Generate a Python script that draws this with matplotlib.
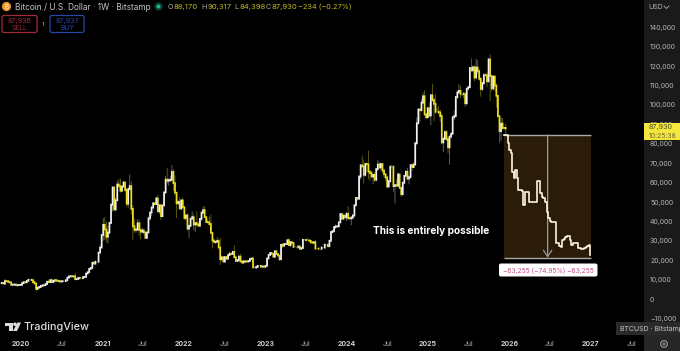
"""
BTC weekly chart with a projected drawdown box, TradingView style
Layout measured for a 680x351 PNG
"""

from datetime import datetime, timedelta

import matplotlib
matplotlib.use("Agg")

import matplotlib.pyplot as plt
from matplotlib.patches import Circle, FancyBboxPatch, Polygon, Rectangle

plt.rcParams["font.family"] = ["Inter", "DejaVu Sans"]

# === DATA (thousand USD, one value per week) ===
FIRST_WEEK = datetime(2019, 9, 30)

closes = [
    8.15, 8.3, 7.95, 9.25, 9.2, 8.8, 8.5, 7.3, 7.4, 7.5, 7.1, 7.2, 7.25, 7.35,
    8.2, 8.7, 8.6, 9.3, 9.9, 9.9, 9.7, 8.6, 8.0, 5.2, 5.9, 6.2, 6.8,
    7.0, 7.1, 7.7, 8.9, 8.7, 9.7, 8.7, 9.4, 9.7, 9.4, 9.3, 9.0, 9.1,
    9.2, 9.2, 9.7, 11.0, 11.6, 11.8, 11.6, 11.7, 10.2, 10.3, 10.9, 10.7, 10.7,
    11.3, 11.4, 13.1, 13.8, 15.5, 16.0, 18.7, 18.2, 19.2, 19.2, 23.9, 26.5, 33.0,
    38.2, 35.8, 32.1, 34.3, 39.2, 48.6, 57.5, 46.2, 50.9, 59.0, 58.1, 55.8, 58.0,
    60.0, 56.2, 49.1, 56.6, 58.2, 46.5, 37.5, 35.7, 35.8, 39.0, 35.6, 34.7, 35.3,
    34.3, 31.5, 34.3, 41.5, 44.6, 47.1, 49.3, 48.9, 51.8, 45.2, 48.3, 42.7, 48.2,
    54.9, 61.5, 60.9, 61.3, 61.5, 65.5, 59.7, 54.8, 49.3, 50.0, 46.7, 50.8, 47.3,
    41.8, 43.1, 36.3, 37.7, 41.4, 42.2, 38.4, 39.1, 38.4, 37.8, 41.3, 44.5, 45.8,
    42.2, 39.7, 39.5, 38.6, 34.1, 30.1, 29.4, 29.5, 29.9, 26.6, 20.5, 21.5, 19.3,
    21.6, 20.8, 22.6, 23.3, 23.2, 24.3, 21.5, 19.6, 20.0, 21.8, 19.4, 18.8, 19.3,
    19.4, 19.3, 19.6, 20.6, 20.9, 16.3, 16.3, 16.5, 17.1, 17.1, 16.7, 16.8, 16.6,
    17.1, 20.9, 22.7, 23.7, 23.3, 21.8, 24.6, 23.2, 22.4, 20.5, 27.9, 27.5, 28.4,
    28.3, 30.3, 27.8, 29.3, 28.9, 26.8, 26.8, 26.8, 27.1, 25.9, 26.3, 30.5, 30.5,
    30.3, 30.3, 30.0, 29.2, 29.0, 29.3, 26.0, 26.0, 25.9, 25.9, 26.5, 26.5, 28.0,
    28.0, 27.2, 30.0, 34.5, 35.0, 37.1, 37.4, 37.5, 39.5, 43.8, 41.4, 43.0, 42.1,
    43.9, 41.7, 41.6, 42.0, 43.0, 48.3, 52.1, 51.7, 63.1, 68.9, 68.4, 64.0, 69.6,
    69.4, 65.7, 64.9, 63.1, 64.0, 61.5, 67.0, 69.3, 67.8, 69.6, 66.2, 64.3, 62.7,
    58.0, 60.8, 68.2, 68.2, 58.2, 58.7, 58.4, 64.2, 57.3, 54.1, 59.9, 63.5, 65.6,
    62.1, 62.8, 69.0, 68.0, 69.3, 80.3, 90.6, 97.7, 97.3, 101.2, 104.5, 95.2, 93.7,
    98.3, 94.6, 105.0, 102.6, 100.6, 96.5, 96.5, 96.2, 94.3, 80.7, 82.6, 86.0, 82.4,
    78.2, 83.7, 85.2, 93.7, 94.3, 104.1, 106.5, 107.3, 105.7, 105.7, 105.6, 100.9, 108.4,
    109.2, 119.1, 117.9, 119.4, 114.2, 119.3, 117.4, 113.5, 108.3, 111.2, 115.4, 115.3, 112.2,
    123.5, 115.0, 108.6, 114.6, 110.0, 104.7, 94.2, 86.5, 90.4, 88.2, 88.17, 87.93,
]

upper_wicks = [
    .3, .2, .4, 1.0, .4, .5, .3, .3, .4, .3, .2, .2, .1, .1,
    .1, .2, .3, .2, .3, .4, .4, .4, .9, .1, .3, .5, .4,
    .2, .2, .1, .5, 1.2, .2, 1.1, .5, .4, .2, .1, .2, .1,
    .2, .3, .1, .2, .5, .3, .5, .1, 1.8, .2, .2, .1, .2,
    .1, .2, .1, .2, .2, .4, .2, .8, .5, .0, .4, 1.5, .4,
    3.5, 4.0, 4.0, 3.5, .5, .5, .5, .5, 1.5, 2.0, 3.0, 4.0, .5,
    1.0, .6, .9, 1.0, 6.0, 2.5, 2.0, 4.0, .5, 2.0, 2.0, 4.0, 1.5,
    1.0, .5, .0, 1.0, .2, .8, .5, .5, 1.0, 2.0, .5, .5, .2,
    .5, 2.0, 6.0, 1.0, 2.0, 3.5, 1.5, 4.0, .2, 1.0, 2.5, .5, 1.5,
    .5, .5, 1.0, .5, .5, 3.0, 1.5, .5, 6.0, 1.5, .5, .5, 2.0,
    2.0, .5, 2.0, 3.0, 5.0, .5, 1.0, .5, 2.0, 1.0, 5.0, .3, .5,
    .5, .5, .5, 1.0, .5, .5, 3.5, .3, .5, 1.0, 1.5, .5, 1.0,
    .5, .5, .5, .5, .0, 1.0, .5, .1, .2, .3, .5, .1, .1,
    .0, .1, .1, .3, .5, .3, .5, .3, .3, .1, .6, .9, .1,
    .4, .2, 1.0, .5, .1, .5, .5, .2, .2, .2, .2, .5, .5,
    .5, 1.0, .3, .2, .2, .1, 1.0, .1, .0, .1, .5, .1, .2,
    .1, .1, .0, .5, .3, .3, 1.0, .2, .1, .2, .4, .4, .3,
    1.0, 4.0, .5, .5, .8, .2, .3, .5, .7, .5, 5.0, 3.5, .5,
    1.0, 7.0, .3, 1.0, .5, 1.5, .5, 2.5, 1.5, .5, .3, 1.0, .5,
    1.0, .5, .5, 1.0, .5, .5, 3.0, 1.0, .2, .5, .5, .5, .5,
    2.0, 1.0, .5, 1.0, 1.0, .5, 3.0, .5, .5, 2.0, 2.0, 3.0, .5,
    .5, 3.0, .5, 6.0, 1.5, 5.0, 2.0, 3.0, 1.5, 1.5, 1.0, 1.0, 1.0,
    1.5, .5, .5, .5, 3.0, .5, 1.0, 3.5, 2.5, .5, 1.0, 1.0, .5,
    .5, .0, 5.0, 1.0, 1.0, 4.5, 4.0, 1.0, 1.0, 1.0, 1.0, 1.0, 1.5,
    .5, 2.7, .5, .5, 1.0, 1.0, .5, .5, 3.0, 3.0, .5, 2.3,
]

lower_wicks = [
    .2, .2, .2, .5, .1, .1, .1, .4, .3, .1, .2, .6, .1, .5,
    .4, .2, .2, .3, .1, .1, .4, .1, .4, 1.4, .5, .5, .3,
    .2, .3, .2, .1, .1, .3, .2, .3, .1, .2, .3, .2, .1,
    .2, .2, .1, .1, .2, .2, .1, .2, .1, .3, .2, .3, .2,
    .1, .2, .1, .2, .1, .1, .2, .2, .2, .3, .2, .2, .1,
    3.0, 5.5, 3.0, 3.5, 1.0, .5, 3.5, 1.0, 1.0, .2, .5, 1.0, .5,
    .5, 1.0, 1.5, 2.0, .5, 3.0, 7.0, 1.5, 1.5, .5, 3.0, 4.0, .5,
    .5, .2, .5, .1, 1.0, 2.0, .5, .2, .2, .5, 1.5, 2.0, .2,
    .1, .2, 1.5, 2.5, 1.0, 1.0, 4.0, 1.5, 7.5, .5, .5, 1.0, 1.0,
    1.0, 1.5, 1.0, 5.0, .5, .5, 3.0, 4.0, .5, .5, .5, 1.0, .5,
    .2, .5, .5, .5, .5, 4.0, .5, 1.0, .5, 1.0, 3.0, 1.0, .3,
    .5, .5, .5, .5, .5, .5, .3, .3, .5, 1.0, .5, .5, .5,
    .5, .5, .5, .2, .2, .5, .5, 1.0, .5, .2, .5, .1, .3,
    .4, .2, .1, .2, .5, .3, .6, .3, .2, .8, .5, 1.3, .7,
    .1, .5, .3, 1.0, 1.5, .4, .1, .7, 1.0, .2, .5, .5, .3,
    .2, .3, .1, .2, .1, .2, .7, .3, .3, .5, .3, .2, .3,
    .5, .4, .5, .3, .2, .3, 1.0, .3, .5, .1, .6, .2, .3,
    2.0, 1.0, 1.0, 3.5, 1.0, .5, .5, 1.0, .5, 1.5, 1.0, 4.5, 1.0,
    4.0, 4.0, 4.0, .2, 4.0, 1.0, 1.0, 1.0, .5, 1.5, 1.5, 2.0, 2.0,
    1.0, .5, 1.0, 1.0, 3.0, 9.0, .5, .5, .5, 1.5, 1.0, .5, .5,
    1.0, 3.0, .5, 2.0, .5, .5, 1.0, .5, 6.0, .5, .5, 1.0, 1.0,
    .5, 1.0, 5.0, 1.0, 9.0, 1.0, .5, 1.0, 3.0, 1.0, 5.0, .5, 1.0,
    3.0, 9.0, 1.0, .5, 1.5, .5, 1.0, .5, 2.0, 1.0, 2.0, 2.0, 1.0,
    .5, .5, 1.0, 1.0, 2.0, 1.0, 1.5, 1.0, 4.0, 1.0, .5, .5, 3.0,
    .5, 13.0, 1.5, 1.0, 3.0, 6.0, .5, 6.0, 5.0, 1.0, 1.0, 3.5,
]

projection = [
    84.5, 84.5, 80.4, 76.8, 75.3, 65.5, 62.4, 66.5, 62.4, 56.2, 56.2, 55.7, 48.5, 55.2,
    55.2, 55.2, 50.0, 50.0, 50.0, 50.0, 50.0, 60.8, 60.8, 54.6, 52.6, 52.0, 50.0, 44.8,
    41.8, 40.2, 39.7, 39.7, 39.7, 28.9, 28.9, 27.3, 26.8, 30.4, 30.9, 32.0, 32.5, 32.5,
    30.4, 27.8, 28.9, 28.9, 28.9, 26.3, 26.3, 25.8, 25.8, 26.3, 26.8, 27.3, 27.8, 22.7,
]

y_ticks = list(range(-10, 150, 10))
year_ticks = [2020, 2021, 2022, 2023, 2024, 2025, 2026, 2027]
PROJECTION_START = datetime(2025, 12, 9)
BOX_END = datetime(2027, 1, 3)
ARROW_DATE = datetime(2026, 6, 21)
BOX_TOP = 84.6
BOX_BOTTOM = 21.3

# === COLORS ===
BG = "#000000"
PANEL = "#1a1a1a"
UP = "#f2f2f2"
DOWN = "#ece01e"
TICK = "#b4b4b4"
BOX_FILL = "#2b1c09"
LINE_CREAM = "#fff4dc"

# === GEOMETRY (px) ===
WIDTH_PX, HEIGHT_PX = 680, 351
PLOT_RIGHT_PX = 644
PLOT_BOTTOM_PX = 335
PX_PER_K = 1.94
ZERO_Y_PX = 299
PX_PER_YEAR = 81.4
X2020_PX = 21

fig = plt.figure(figsize=(WIDTH_PX / 100, HEIGHT_PX / 100), dpi=100, facecolor=BG)

# ===== PRICE AXIS PANEL =====
ax_panel = fig.add_axes([0, 0, 1, 1])
ax_panel.set_xlim(0, WIDTH_PX)
ax_panel.set_ylim(HEIGHT_PX, 0)
ax_panel.axis("off")
ax_panel.add_patch(Rectangle((PLOT_RIGHT_PX, 0), WIDTH_PX - PLOT_RIGHT_PX, HEIGHT_PX,
                             facecolor=PANEL, edgecolor="none"))
ax_panel.add_patch(Rectangle((PLOT_RIGHT_PX, PLOT_BOTTOM_PX), WIDTH_PX - PLOT_RIGHT_PX,
                             HEIGHT_PX - PLOT_BOTTOM_PX, facecolor="#262626", edgecolor="none"))

# ===== CHART =====
ax = fig.add_axes([0, 1 - PLOT_BOTTOM_PX / HEIGHT_PX, PLOT_RIGHT_PX / WIDTH_PX, PLOT_BOTTOM_PX / HEIGHT_PX])
ax.set_facecolor("none")

x_left = datetime(2020, 1, 1) - timedelta(days=365.25 * X2020_PX / PX_PER_YEAR)
x_right = datetime(2020, 1, 1) + timedelta(days=365.25 * (PLOT_RIGHT_PX - X2020_PX) / PX_PER_YEAR)
ax.set_xlim(x_left, x_right)
ax.set_ylim((ZERO_Y_PX - PLOT_BOTTOM_PX) / PX_PER_K, ZERO_Y_PX / PX_PER_K)

# ---- CANDLES ----
dates = [FIRST_WEEK + timedelta(weeks=i) for i in range(len(closes))]
opens = [closes[0]] + closes[:-1]
for d, o, c, uw, lw in zip(dates, opens, closes, upper_wicks, lower_wicks):
    color = UP if c >= o else DOWN
    wick = ax.vlines(d, min(o, c) - lw, max(o, c) + uw, color=color, linewidth=0.6, alpha=0.45, zorder=2)
    body = ax.vlines(d, min(o, c), max(o, c), color=color, linewidth=1.25, capstyle="projecting", zorder=3)
    wick.set_snap(False)
    body.set_snap(False)

# ---- PROJECTION BOX ----
y0, y1 = ax.get_ylim()
ax.axvspan(PROJECTION_START, BOX_END, ymin=(BOX_BOTTOM - y0) / (y1 - y0), ymax=(BOX_TOP - y0) / (y1 - y0),
           facecolor=BOX_FILL, edgecolor="none", zorder=1)
ax.hlines([BOX_TOP, BOX_BOTTOM], PROJECTION_START, BOX_END, color="#a8a8a8", linewidth=1.0, zorder=4)

proj_dates = [PROJECTION_START + timedelta(weeks=i) for i in range(len(projection))]
ax.annotate("", xy=(ARROW_DATE, BOX_BOTTOM), xytext=(ARROW_DATE, BOX_TOP),
            arrowprops=dict(arrowstyle="->,head_length=0.45,head_width=0.3", color="#9a9a9a",
                            linewidth=0.9, shrinkA=0, shrinkB=0), zorder=4)
ax.step(proj_dates, projection, where="post", color=LINE_CREAM, linewidth=1.2, zorder=5)

# ---- AXES ----
ax.yaxis.tick_right()
ax.set_yticks(y_ticks)
ax.set_yticklabels([f"{v * 1000:,}".replace("-", "\u2212") for v in y_ticks])
ax.tick_params(axis="y", length=0, pad=4.4, labelsize=5.0, labelcolor=TICK)

year_dates = [datetime(y, 1, 1) for y in year_ticks]
jul_dates = [datetime(y, 7, 1) for y in year_ticks]
ax.set_xticks(sorted(year_dates + jul_dates))
ax.set_xticklabels([lbl for y in year_ticks for lbl in (str(y), "Jul")])
ax.tick_params(axis="x", length=0, pad=4.4, labelsize=5.0, labelcolor=TICK)
for lbl in ax.get_xticklabels():
    if lbl.get_text() != "Jul":
        lbl.set_fontweight("bold")
        lbl.set_color("#cfcfcf")

for s in ax.spines.values():
    s.set_visible(False)

# ===== UI LAYER =====
ax_ui = fig.add_axes([0, 0, 1, 1])
ax_ui.set_xlim(0, WIDTH_PX)
ax_ui.set_ylim(HEIGHT_PX, 0)
ax_ui.axis("off")

# ---- HEADER ----
ax_ui.add_patch(Circle((6.5, 6.5), 4.6, facecolor="#f0951f", edgecolor="none"))
ax_ui.text(6.5, 6.7, "\u20bf", color="white", fontsize=4.5, ha="center", va="center",
           family=["Inter", "Noto Sans", "Roboto", "Lato", "Open Sans", "Liberation Sans"])
ax_ui.text(15, 7, "Bitcoin / U.S. Dollar \u00b7 1W \u00b7 Bitstamp", color="#c9c9c9", fontsize=5.95, va="center")
ax_ui.add_patch(Circle((158.5, 6.5), 4.2, facecolor="#0d3a30", edgecolor="none"))
ax_ui.add_patch(Circle((158.5, 6.5), 2.0, facecolor="#1bb98f", edgecolor="none"))

ohlc = [(168, "O", "88,170"), (201.7, "H", "90,317"), (234, "L", "84,398"), (265.7, "C", "87,930")]
for x, letter, value in ohlc:
    ax_ui.text(x, 7, letter, color="#a8a8a8", fontsize=5.3, va="center")
    ax_ui.text(x + 5.3, 7, value, color="#c6b81c", fontsize=5.5, va="center")
ax_ui.text(298, 7, "\u2212234 (\u22120.27%)", color="#c6b81c", fontsize=5.3, va="center")

# ---- SELL / BUY ----
for x0, w, col, price, side in [(2, 35, "#a32a3c", "87,936", "SELL"), (50, 34, "#2547a8", "87,937", "BUY")]:
    ax_ui.add_patch(FancyBboxPatch((x0, 15.5), w, 17, boxstyle="round,pad=0,rounding_size=2",
                                   facecolor="none", edgecolor=col, linewidth=0.9))
    ax_ui.text(x0 + w / 2, 20.5, price, color=col, fontsize=5.2, ha="center", va="center")
    ax_ui.text(x0 + w / 2, 28, side, color=col, fontsize=4.8, ha="center", va="center")
ax_ui.text(43, 24, "1", color="#b0b0b0", fontsize=4.3, ha="center", va="center")

# ---- USD ----
ax_ui.text(648, 7, "USD", color=TICK, fontsize=5, va="center")
ax_ui.plot([664, 666.5, 669], [6, 8.5, 6], color=TICK, linewidth=0.6)

# ---- PRICE TAG ----
ax_ui.add_patch(Rectangle((PLOT_RIGHT_PX, 123), WIDTH_PX - PLOT_RIGHT_PX, 17, facecolor="#f4e63c", edgecolor="none"))
ax_ui.text(649, 127.5, "87,930", color="#4a4a20", fontsize=5.2, va="center")
ax_ui.text(649, 135.8, "10:25:38", color="#6a6a30", fontsize=5.0, va="center")

# ---- ANNOTATIONS ----
ax_ui.text(431, 231, "This is entirely possible", color="white", fontsize=7.3, fontweight="bold",
           ha="center", va="center")
ax_ui.add_patch(FancyBboxPatch((499, 263.5), 98.5, 13, boxstyle="round,pad=0,rounding_size=2",
                               facecolor="white", edgecolor="none"))
ax_ui.text(548.3, 270.3, "\u221263,255 (\u221274.95%) \u221263,255", color="#c2508a", fontsize=4.8,
           ha="center", va="center")

# ---- SYMBOL TAG ----
ax_ui.add_patch(Rectangle((616, 322), WIDTH_PX - 616, 13, facecolor="#2a2a2a", edgecolor="none"))
ax_ui.text(620.5, 328.7, "BTCUSD \u00b7 Bitstamp", color="#c4c4c4", fontsize=5.0, va="center", clip_on=True)

# ---- GEAR ----
ax_ui.add_patch(Circle((664, 344), 3.4, facecolor="none", edgecolor="#a0a0a0", linewidth=0.7))
ax_ui.add_patch(Circle((664, 344), 1.2, facecolor="none", edgecolor="#a0a0a0", linewidth=0.6))

# ---- TRADINGVIEW LOGO ----
LOGO = "#dcdcdc"
ax_ui.add_patch(Polygon([(5, 322.5), (12.5, 322.5), (12.5, 331), (9, 331), (9, 326), (5, 326)],
                        facecolor=LOGO, edgecolor="none"))
ax_ui.add_patch(Circle((15, 324.3), 1.8, facecolor=LOGO, edgecolor="none"))
ax_ui.add_patch(Polygon([(17.5, 322.5), (21, 322.5), (17, 331), (13, 331)], facecolor=LOGO, edgecolor="none"))
ax_ui.text(24, 326.5, "TradingView", color=LOGO, fontsize=7.8, va="center", fontweight="medium")

fig.savefig("out.png", dpi=100, facecolor=BG)
plt.close(fig)
